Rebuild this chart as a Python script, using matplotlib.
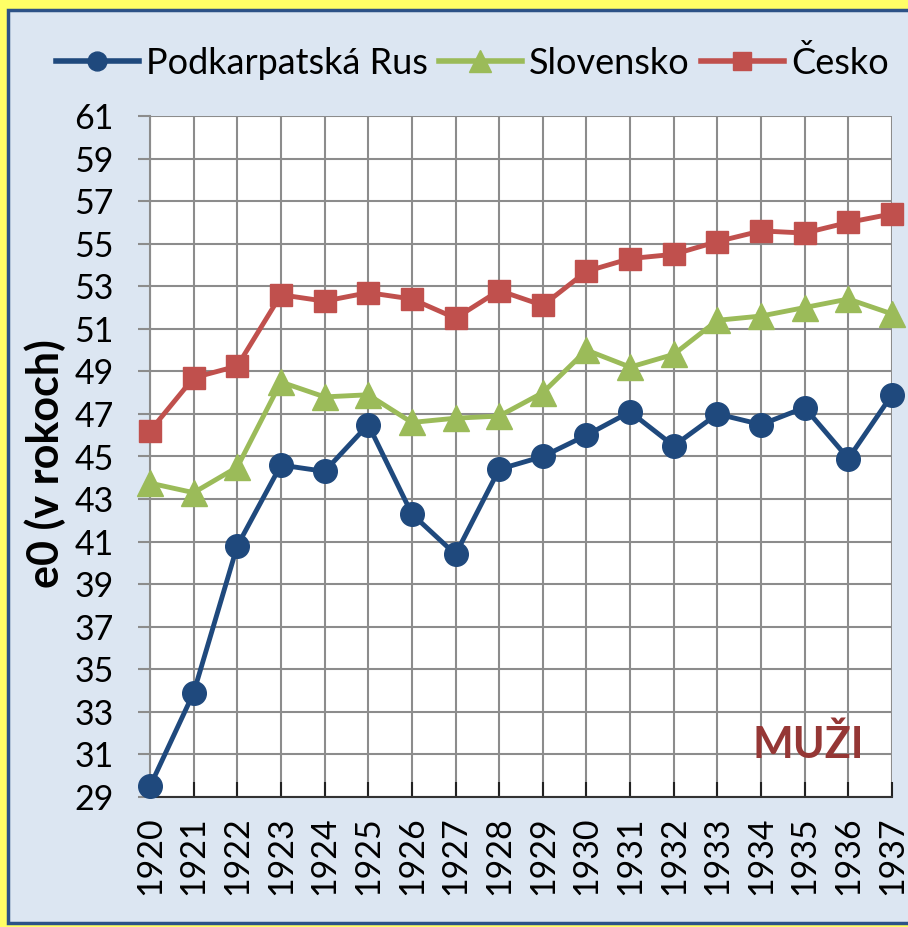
import numpy as np
import matplotlib.pyplot as plt
from matplotlib.patches import Rectangle

plt.rcParams['font.family'] = ['Lato', 'DejaVu Sans']

years = list(range(1920, 1938))
podkarpatska = [29.5, 33.9, 40.8, 44.6, 44.3, 46.5, 42.3, 40.4, 44.4,
                45.0, 46.0, 47.1, 45.5, 47.0, 46.5, 47.3, 44.9, 47.9]
slovensko = [43.75, 43.3, 44.5, 48.5, 47.8, 47.9, 46.6, 46.8, 46.9,
             48.0, 50.0, 49.2, 49.8, 51.4, 51.6, 52.0, 52.4, 51.7]
cesko = [46.2, 48.7, 49.25, 52.6, 52.3, 52.7, 52.4, 51.5, 52.8,
         52.1, 53.7, 54.3, 54.5, 55.1, 55.6, 55.5, 56.0, 56.4]
yticks = list(range(29, 62, 2))

W, H = 908, 927
fig = plt.figure(figsize=(W / 100, H / 100), dpi=100)
fig.patch.set_facecolor('#ffff66')

# inner light blue panel with dark blue border
panel = Rectangle((8 / W, 1 - 923 / H), (W + 20 - 8) / W, (923 - 10) / H,
                  transform=fig.transFigure, facecolor='#dce6f2',
                  edgecolor='#2c5287', linewidth=2.5, zorder=0)
fig.patches.append(panel)

ax = fig.add_axes([150 / W, 1 - 797 / H, (892 - 150) / W, (797 - 116) / H])
ax.set_zorder(2)
ax.set_facecolor('white')

blue = '#1f497d'
green = '#9bbb59'
red = '#c0504d'

ax.plot(years, podkarpatska, color=blue, lw=3.5, marker='o', ms=17,
        label='Podkarpatská Rus', zorder=4, clip_on=False)
ax.plot(years, slovensko, color=green, lw=3.5, marker='^', ms=19,
        label='Slovensko', zorder=3, clip_on=False)
ax.plot(years, cesko, color=red, lw=3.5, marker='s', ms=16.5,
        label='Česko', zorder=3, clip_on=False)

ax.set_xlim(1920, 1937)
ax.set_ylim(29, 61)
ax.set_yticks(yticks)
ax.set_xticks(years)
ax.set_xticklabels([str(y) for y in years], rotation=90, va='top')

ax.grid(True, color='#8c8c8c', lw=1.5)
ax.set_axisbelow(True)
for s in ['top', 'right']:
    ax.spines[s].set_visible(False)
ax.spines['left'].set_color('#8c8c8c')
ax.spines['left'].set_linewidth(1.5)
ax.spines['bottom'].set_color('#333333')
ax.spines['bottom'].set_linewidth(1.5)

ax.tick_params(axis='y', direction='out', length=9, width=1.5,
               color='#8c8c8c', labelsize=24.5, pad=17)
ax.tick_params(axis='x', direction='in', length=11, width=1.5,
               color='#222222', labelsize=24.5, pad=14)

ax.set_ylabel('e0 (v rokoch)', fontsize=31, fontweight='bold', va='center')
ax.yaxis.set_label_coords(-105 / (892 - 150), 0.49)

ax.text(1935.07, 31.45, 'MUŽI', fontsize=31, fontweight='bold',
        color='#953735', ha='center', va='center')

leg = fig.legend(loc='center', bbox_to_anchor=(0.52, 1 - 63 / H), ncol=3,
                 frameon=False, fontsize=26, handlelength=2.3,
                 handletextpad=0.2, columnspacing=0.3, markerscale=0.8)
for line in leg.get_lines():
    line.set_linewidth(4)

fig.savefig('out.png', dpi=100, facecolor=fig.get_facecolor())
